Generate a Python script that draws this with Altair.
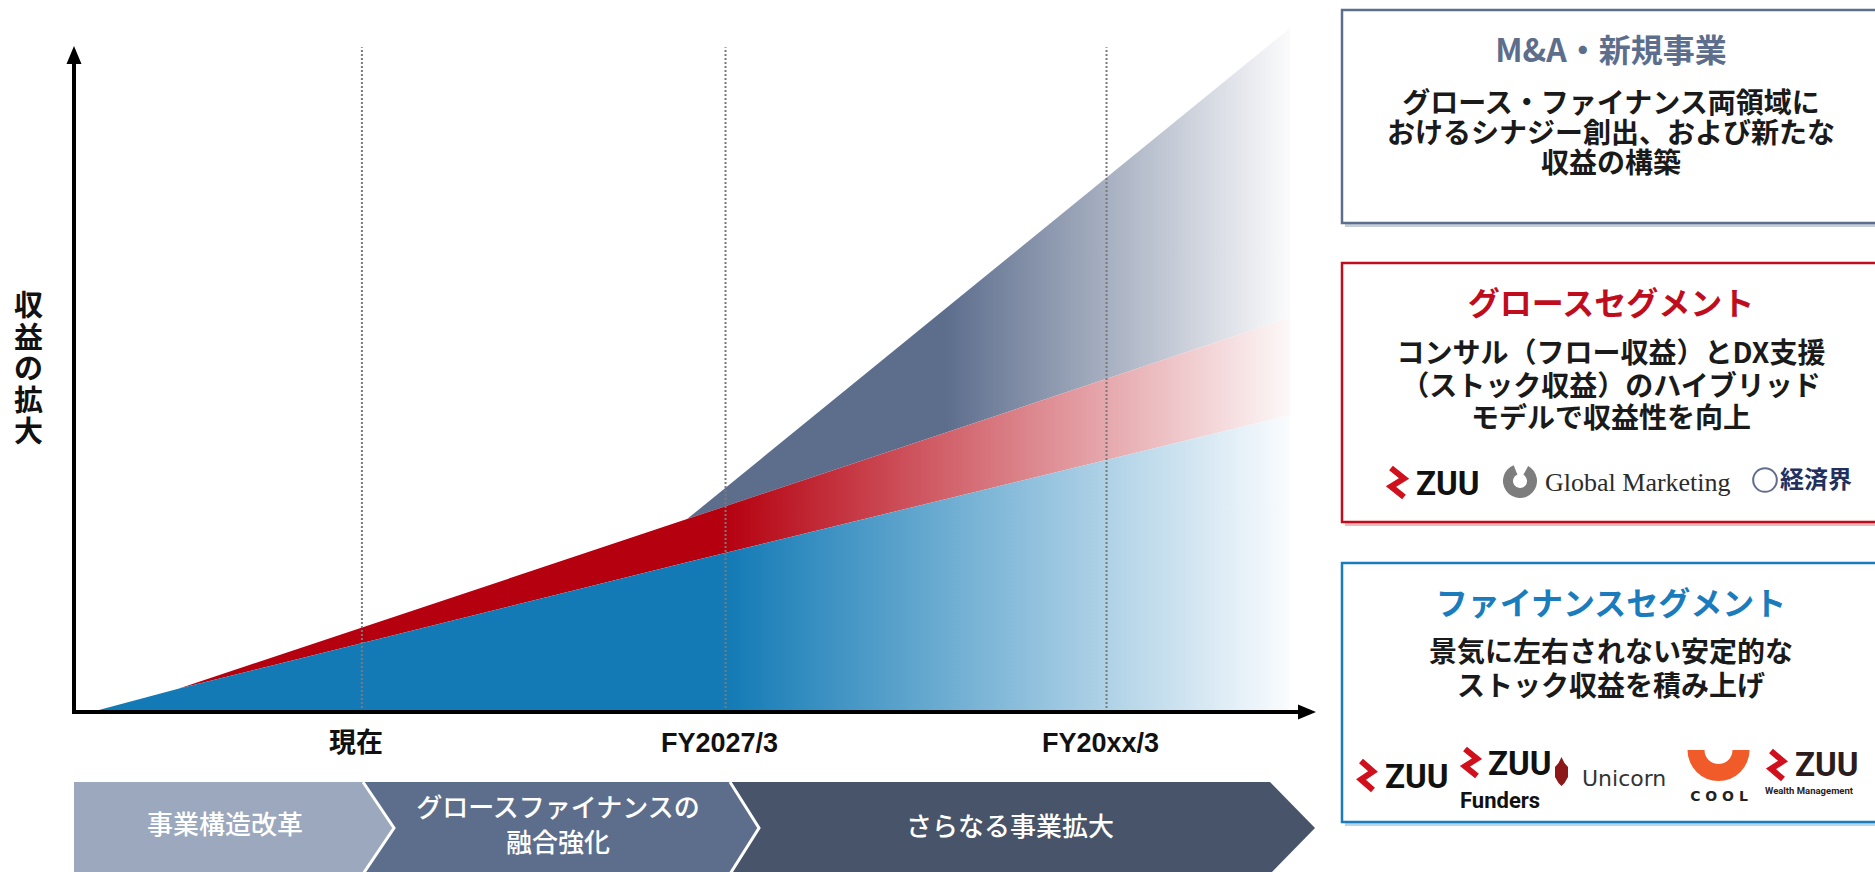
import altair as alt
import pandas as pd

# ----------------------------- data -----------------------------
# break-points of the stacked revenue areas (x: axis units 0..100, y: axis units 0..100)
time_pts = [1.4, 8.4, 49.4, 98.0]
finance_rev = [0.0, 3.4, 21.9, 43.4]
growth_rev = [0.0, 0.0, 6.3, 14.3]
new_rev = [0.0, 0.0, 0.0, 42.3]
growth_start = 8.4
new_start = 49.4

tick_pos = [23.2, 52.5, 83.2]
tick_labels = ["現在", "FY2027/3", "FY20xx/3"]
axis_top = 97.2
y_title = "収益の拡大"

phase_labels = ["事業構造改革", "グロースファイナンスの\n融合強化", "さらなる事業拡大"]

box_titles = ["M&A・新規事業", "グロースセグメント", "ファイナンスセグメント"]
box_bodies = [
    ["グロース・ファイナンス両領域に", "おけるシナジー創出、および新たな", "収益の構築"],
    ["コンサル（フロー収益）とDX支援", "（ストック収益）のハイブリッド", "モデルで収益性を向上"],
    ["景気に左右されない安定的な", "ストック収益を積み上げ"],
]
growth_brands = ["ZUU", "Global Marketing", "経済界"]
finance_brands = ["ZUU", "ZUU", "Funders", "Unicorn", "C O O L", "ZUU", "Wealth Management"]

# ----------------------------- layout helpers -----------------------------
PX_L, PX_T, PW, PH = 74, 28, 1241, 684
JP = "Noto Sans CJK JP"
LAT = "Liberation Sans, Noto Sans CJK JP"


def X(px):
    return (px - PX_L) * 100.0 / PW


def Y(py):
    return (PX_T + PH - py) * 100.0 / PH


XS = alt.Scale(domain=[0, 100], nice=False, zero=False)
YS = alt.Scale(domain=[0, 100], nice=False, zero=False)


def ex(f="x"):
    return alt.X(f"{f}:Q", scale=XS, axis=None)


def ey(f="y"):
    return alt.Y(f"{f}:Q", scale=YS, axis=None)


def grad(c, solid_until, end):
    return alt.Gradient(
        gradient="linear", x1=0, x2=1, y1=0, y2=0,
        stops=[alt.GradientStop(color=c, offset=0),
               alt.GradientStop(color=c, offset=solid_until),
               alt.GradientStop(color=end, offset=1)])


def texts(rows, size, color, weight="bold", font=JP, align="center", **kw):
    df = pd.DataFrame([{"x": X(a), "y": Y(b), "text": t} for a, b, t in rows])
    return alt.Chart(df).mark_text(font=font, fontSize=size, color=color, fontWeight=weight,
                                   align=align, baseline="middle", **kw).encode(
        x=ex("x"), y=ey("y"), text="text:N")


layers = []

# ----------------------------- revenue areas -----------------------------
rev = pd.DataFrame({"t": time_pts, "fin": finance_rev, "gro": growth_rev, "new": new_rev})
rev["top_fin"] = rev["fin"]
rev["top_gro"] = rev["fin"] + rev["gro"]
rev["top_new"] = rev["top_gro"] + rev["new"]
rev["zero"] = 0.0

layers.append(alt.Chart(rev[rev.t >= new_start]).mark_area(
    color=grad("#5d6e8d", 0.43, "#fbfbfc")).encode(x=ex("t"), y=ey("top_new"), y2="top_gro"))
layers.append(alt.Chart(rev[rev.t >= growth_start]).mark_area(
    color=grad("#b5000f", 0.49, "#fdf8f8")).encode(x=ex("t"), y=ey("top_gro"), y2="top_fin"))
layers.append(alt.Chart(rev).mark_area(
    color=grad("#137ab5", 0.53, "#fafcfe")).encode(x=ex("t"), y=ey("top_fin"), y2="zero"))

# dotted period lines and labels
ticks = pd.DataFrame({"t": tick_pos, "label": tick_labels, "y0": 0.0, "y1": axis_top,
                      "ly": Y(744)})
layers.append(alt.Chart(ticks).mark_rule(color="#7a7a7a", strokeWidth=2, strokeDash=[2, 2]).encode(
    x=ex("t"), y=ey("y0"), y2="y1"))
layers.append(alt.Chart(ticks).mark_text(font=LAT, fontSize=27, fontWeight="bold", color="#111111",
                                         baseline="middle", dx=-6).encode(
    x=ex("t"), y=ey("ly"), text="label:N"))

# axes with arrow heads
axes_df = pd.DataFrame({"x": [X(72), X(74)], "x2": [X(1302), X(74)],
                        "y": [Y(712), Y(714)], "y2": [Y(712), Y(61)]})
layers.append(alt.Chart(axes_df).mark_rule(color="#000000", strokeWidth=4).encode(
    x=ex("x"), x2="x2", y=ey("y"), y2="y2"))
xarrow = pd.DataFrame({"x": [X(1298), X(1316)], "y": [Y(704.5), Y(712)], "y2": [Y(719.5), Y(712)]})
layers.append(alt.Chart(xarrow).mark_area(color="#000000").encode(x=ex("x"), y=ey("y"), y2="y2"))
yarrow = pd.DataFrame({"y": [Y(64), Y(46)], "x": [X(66.5), X(74)], "x2": [X(81.5), X(74)]})
layers.append(alt.Chart(yarrow).mark_area(color="#000000", orient="horizontal").encode(
    y=ey("y"), x=ex("x"), x2="x2"))

# vertical y title, one character per row
layers.append(texts([(28.5, 307 + 31.5 * i, ch) for i, ch in enumerate(y_title)], 29, "#111111"))

# ----------------------------- phase chevrons -----------------------------
BT, BB, BM = 782, 874, 828
segs = [(729, 1270, 1315, "#475469"), (362, 729, 758, "#5d6e8d"), (74, 362, 393, "#9ba8bd")]
for a, b, tip, c in segs:
    d = pd.DataFrame({"x": [X(a), X(b), X(tip)], "y": [Y(BT), Y(BT), Y(BM)],
                      "y2": [Y(BB), Y(BB), Y(BM)]})
    layers.append(alt.Chart(d).mark_area(color=c).encode(x=ex("x"), y=ey("y"), y2="y2"))
sep_rows = []
for k, (b, tip) in enumerate([(362, 393), (729, 758)]):
    for o, (px, py) in enumerate([(b, BT), (tip, BM), (b, BB)]):
        sep_rows.append({"x": X(px + 1), "y": Y(py), "k": k, "o": o})
layers.append(alt.Chart(pd.DataFrame(sep_rows)).mark_line(color="white", strokeWidth=3).encode(
    x=ex("x"), y=ey("y"), detail="k:N", order="o:Q"))
layers.append(texts([(225, 826, phase_labels[0]), (558, 809, phase_labels[1]),
                     (1010, 828, phase_labels[2])], 26, "white", weight=500,
                    lineBreak="\n", lineHeight=35))

# ----------------------------- segment boxes -----------------------------
boxes = [(10, 223, "#5d6e8d", "#c6cdd9"), (263, 522, "#c00d1e", "#efb8bd"), (563, 822, "#1b7cbd", "#b7d6ea")]
shadow = pd.DataFrame([{"x": X(1345), "x2": X(1885), "y": Y(t + 4), "y2": Y(b + 4), "c": s}
                       for t, b, c, s in boxes])
layers.append(alt.Chart(shadow).mark_rect().encode(
    x=ex("x"), x2="x2", y=ey("y"), y2="y2", color=alt.Color("c:N", scale=None)))
frame = pd.DataFrame([{"x": X(1342), "x2": X(1885), "y": Y(t), "y2": Y(b), "c": c}
                      for t, b, c, s in boxes])
layers.append(alt.Chart(frame).mark_rect(fill="white", strokeWidth=2.5).encode(
    x=ex("x"), x2="x2", y=ey("y"), y2="y2", stroke=alt.Stroke("c:N", scale=None)))

title_y = [52, 305, 605]
body_y0 = [105, 355, 654]
body_step = [30, 32.5, 34]
for i, (tt, c) in enumerate(zip(box_titles, [b[2] for b in boxes])):
    layers.append(texts([(1611, title_y[i], tt)], 32, c))
    layers.append(texts([(1611, body_y0[i] + j * body_step[i], line)
                         for j, line in enumerate(box_bodies[i])], 28, "#1a1a1a"))

# ----------------------------- brand marks -----------------------------
zig_rows = []
for k, (x0, y0, w, h) in enumerate([(1388, 465, 19, 35), (1358, 758, 18, 35),
                                    (1462, 746, 18, 33), (1768, 748, 18, 34)]):
    for o, (fx, fy) in enumerate([(0, 0), (1, 0.36), (0, 0.64), (1, 1)]):
        zig_rows.append({"x": X(x0 + 3 + fx * (w - 6)), "y": Y(y0 + 3 + fy * (h - 6)), "k": k, "o": o})
layers.append(alt.Chart(pd.DataFrame(zig_rows)).mark_line(
    color="#d0101c", strokeWidth=6, strokeJoin="miter").encode(
    x=ex("x"), y=ey("y"), detail="k:N", order="o:Q"))

layers.append(texts([(1416, 485, growth_brands[0]), (1385, 778, finance_brands[0]),
                     (1488, 765, finance_brands[1])], 33, "#111111", font="Roboto", align="left"))
layers.append(texts([(1795, 766, finance_brands[5])], 33, "#2b1d1d", font="Roboto", align="left"))
layers.append(texts([(1460, 801, finance_brands[2])], 22, "#111111", font="Roboto", align="left"))
layers.append(texts([(1809, 791, finance_brands[6])], 9.5, "#2b1d1d", font="Roboto"))
layers.append(texts([(1545, 483, growth_brands[1])], 26, "#2b2b2b", weight="normal",
                    font="Liberation Serif", align="left"))
layers.append(texts([(1780, 481, growth_brands[2])], 24, "#22305e", align="left"))
layers.append(texts([(1582, 779, finance_brands[3])], 22, "#333333", weight="normal",
                    font="DejaVu Sans", align="left"))
layers.append(texts([(1719, 797, finance_brands[4])], 14, "#222222", font="DejaVu Sans"))

# icons (arcs / circles / shield)
arcs = [
    (1520, 481, 17, 7, 0.5, 5.9, "#7d7d7d"),           # Global Marketing swirl
    (1718.5, 750, 31, 14, 1.5708, 4.7124, "#f15a29"),  # COOL
]
for cx, cy, r, r2, t1, t2, c in arcs:
    d = pd.DataFrame({"x": [X(cx)], "y": [Y(cy)]})
    layers.append(alt.Chart(d).mark_arc(color=c).encode(
        x=ex("x"), y=ey("y"), theta=alt.value(t1), theta2=alt.value(t2),
        radius=alt.value(r), radius2=alt.value(r2)))
shield = pd.DataFrame({"x": [X(1555), X(1558.5), X(1561.5), X(1564.5), X(1568)],
                       "y": [Y(767), Y(763), Y(757), Y(763), Y(767)],
                       "y2": [Y(777), Y(783), Y(786), Y(783), Y(777)]})
layers.append(alt.Chart(shield).mark_area(color="#8c1818").encode(x=ex("x"), y=ey("y"), y2="y2"))
globe = pd.DataFrame({"x": [X(1765)], "y": [Y(480)]})
layers.append(alt.Chart(globe).mark_point(shape="circle", filled=False, size=560, strokeWidth=2,
                                          color="#22305e").encode(x=ex("x"), y=ey("y")))

chart = alt.layer(*layers).properties(
    width=PW, height=PH,
    padding={"left": PX_L, "top": PX_T, "right": 1875 - PX_L - PW, "bottom": 872 - PX_T - PH},
    autosize=alt.AutoSizeParams(type="none"),
    background="white",
).configure_view(stroke=None)

chart.save("out.html", embed_options={"renderer": "svg", "actions": False})
